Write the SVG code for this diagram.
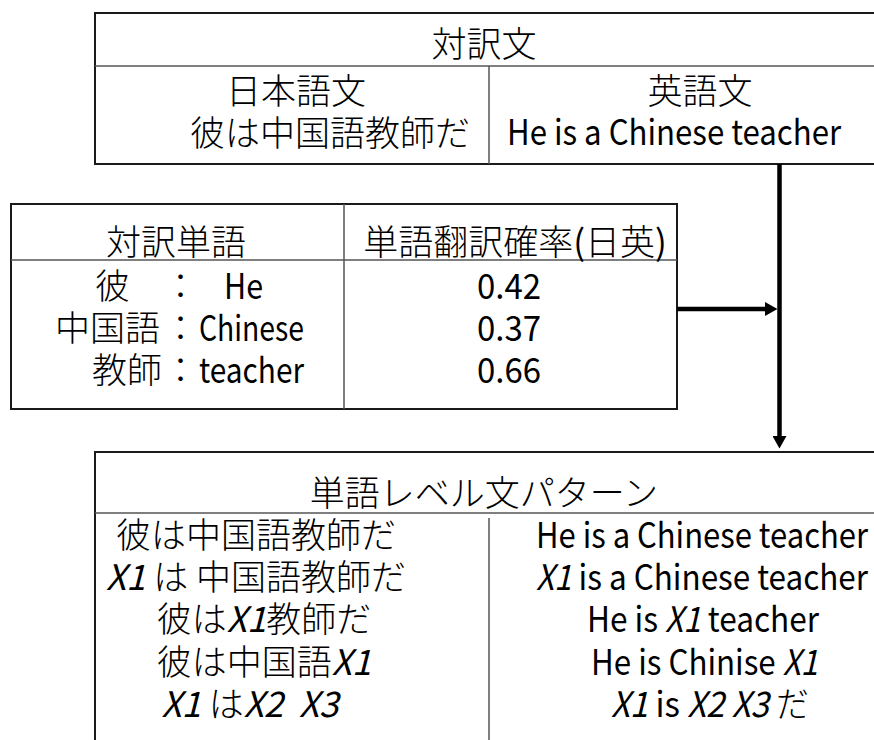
<svg xmlns="http://www.w3.org/2000/svg" width="874" height="740" viewBox="0 0 874 740">
<style>
.box{fill:#fff;stroke:#1a1a1a;stroke-width:2}
.div{stroke:#555;stroke-width:1.5;fill:none}
.t{font-family:"Noto Sans CJK JP","Noto Sans CJK SC",sans-serif;font-size:35px;fill:#000}
.jp{font-weight:300}
.c{text-anchor:middle}
.i{font-style:italic}
.conn{stroke:#000;stroke-width:4.5;fill:none}
</style>
<defs>
<marker id="ah" markerUnits="userSpaceOnUse" markerWidth="13" markerHeight="14" refX="0" refY="7" orient="auto">
<path d="M0,0 L12.5,7 L0,14 z" fill="#000"/>
</marker>
</defs>
<rect width="874" height="740" fill="#fff"/>

<g id="parallel-sentence">
<rect class="box" x="95" y="13" width="800" height="151"/>
<line class="div" x1="95" y1="66" x2="874" y2="66"/>
<line class="div" x1="489" y1="66" x2="489" y2="164"/>
<text class="t jp c" x="484" y="57">対訳文</text>
<text class="t jp c" x="296" y="104">日本語文</text>
<text class="t jp c" x="700" y="104">英語文</text>
<text class="t jp c" x="330" y="146">彼は中国語教師だ</text>
<text class="t c" x="674" y="145" textLength="334" lengthAdjust="spacingAndGlyphs">He is a Chinese teacher</text>
</g>

<g id="word-pairs">
<rect class="box" x="11" y="204" width="666" height="205"/>
<line class="div" x1="11" y1="260" x2="677" y2="260" stroke="#222"/>
<line class="div" x1="344" y1="204" x2="344" y2="409" stroke="#222"/>
<text class="t jp c" x="176" y="255">対訳単語</text>
<text class="t c" x="515" y="255"><tspan class="jp">単語翻訳確率</tspan>(<tspan class="jp">日英</tspan>)</text>
<text class="t jp" x="95" y="299">彼</text>
<text class="t jp" x="163" y="299">：</text>
<text class="t" x="224" y="299" textLength="39" lengthAdjust="spacingAndGlyphs">He</text>
<text class="t jp" x="55" y="341">中国語</text>
<text class="t jp" x="163" y="341">：</text>
<text class="t" x="199" y="341" textLength="105" lengthAdjust="spacingAndGlyphs">Chinese</text>
<text class="t jp" x="92" y="383">教師</text>
<text class="t jp" x="163" y="383">：</text>
<text class="t" x="199" y="383" textLength="105" lengthAdjust="spacingAndGlyphs">teacher</text>
<text class="t c" x="509" y="299" textLength="64" lengthAdjust="spacingAndGlyphs">0.42</text>
<text class="t c" x="509" y="341" textLength="64" lengthAdjust="spacingAndGlyphs">0.37</text>
<text class="t c" x="509" y="383" textLength="64" lengthAdjust="spacingAndGlyphs">0.66</text>
</g>

<g id="word-level-patterns">
<rect class="box" x="95" y="452" width="800" height="300"/>
<line class="div" x1="95" y1="513" x2="874" y2="513"/>
<line class="div" x1="489" y1="518" x2="489" y2="740"/>
<text class="t jp c" x="484" y="506">単語レベル文パターン</text>
<text class="t jp c" x="256" y="548">彼は中国語教師だ</text>
<text class="t c" x="256" y="590"><tspan class="i">X1</tspan><tspan class="jp"> は 中国語教師だ</tspan></text>
<text class="t c" x="264" y="632"><tspan class="jp">彼は</tspan><tspan class="i">X1</tspan><tspan class="jp">教師だ</tspan></text>
<text class="t c" x="264" y="675"><tspan class="jp">彼は中国語</tspan><tspan class="i">X1</tspan></text>
<text class="t c" x="250" y="717" xml:space="preserve"><tspan class="i">X1</tspan><tspan class="jp"> は</tspan><tspan class="i">X2  X3</tspan></text>
<text class="t c" x="702" y="548" textLength="332" lengthAdjust="spacingAndGlyphs">He is a Chinese teacher</text>
<text class="t c" x="702" y="590" textLength="332" lengthAdjust="spacingAndGlyphs"><tspan class="i">X1</tspan> is a Chinese teacher</text>
<text class="t c" x="703" y="632" textLength="232" lengthAdjust="spacingAndGlyphs">He is <tspan class="i">X1</tspan> teacher</text>
<text class="t c" x="704.5" y="675" textLength="227" lengthAdjust="spacingAndGlyphs">He is Chinise <tspan class="i">X1</tspan></text>
<text class="t c" x="710" y="717" textLength="198" lengthAdjust="spacingAndGlyphs"><tspan class="i">X1</tspan> is <tspan class="i">X2</tspan> <tspan class="i">X3</tspan> <tspan class="jp">だ</tspan></text>
</g>

<g id="connectors">
<line class="conn" x1="779.5" y1="164" x2="779.5" y2="436" marker-end="url(#ah)"/>
<line class="conn" x1="677" y1="309" x2="765" y2="309" marker-end="url(#ah)"/>
</g>
</svg>
